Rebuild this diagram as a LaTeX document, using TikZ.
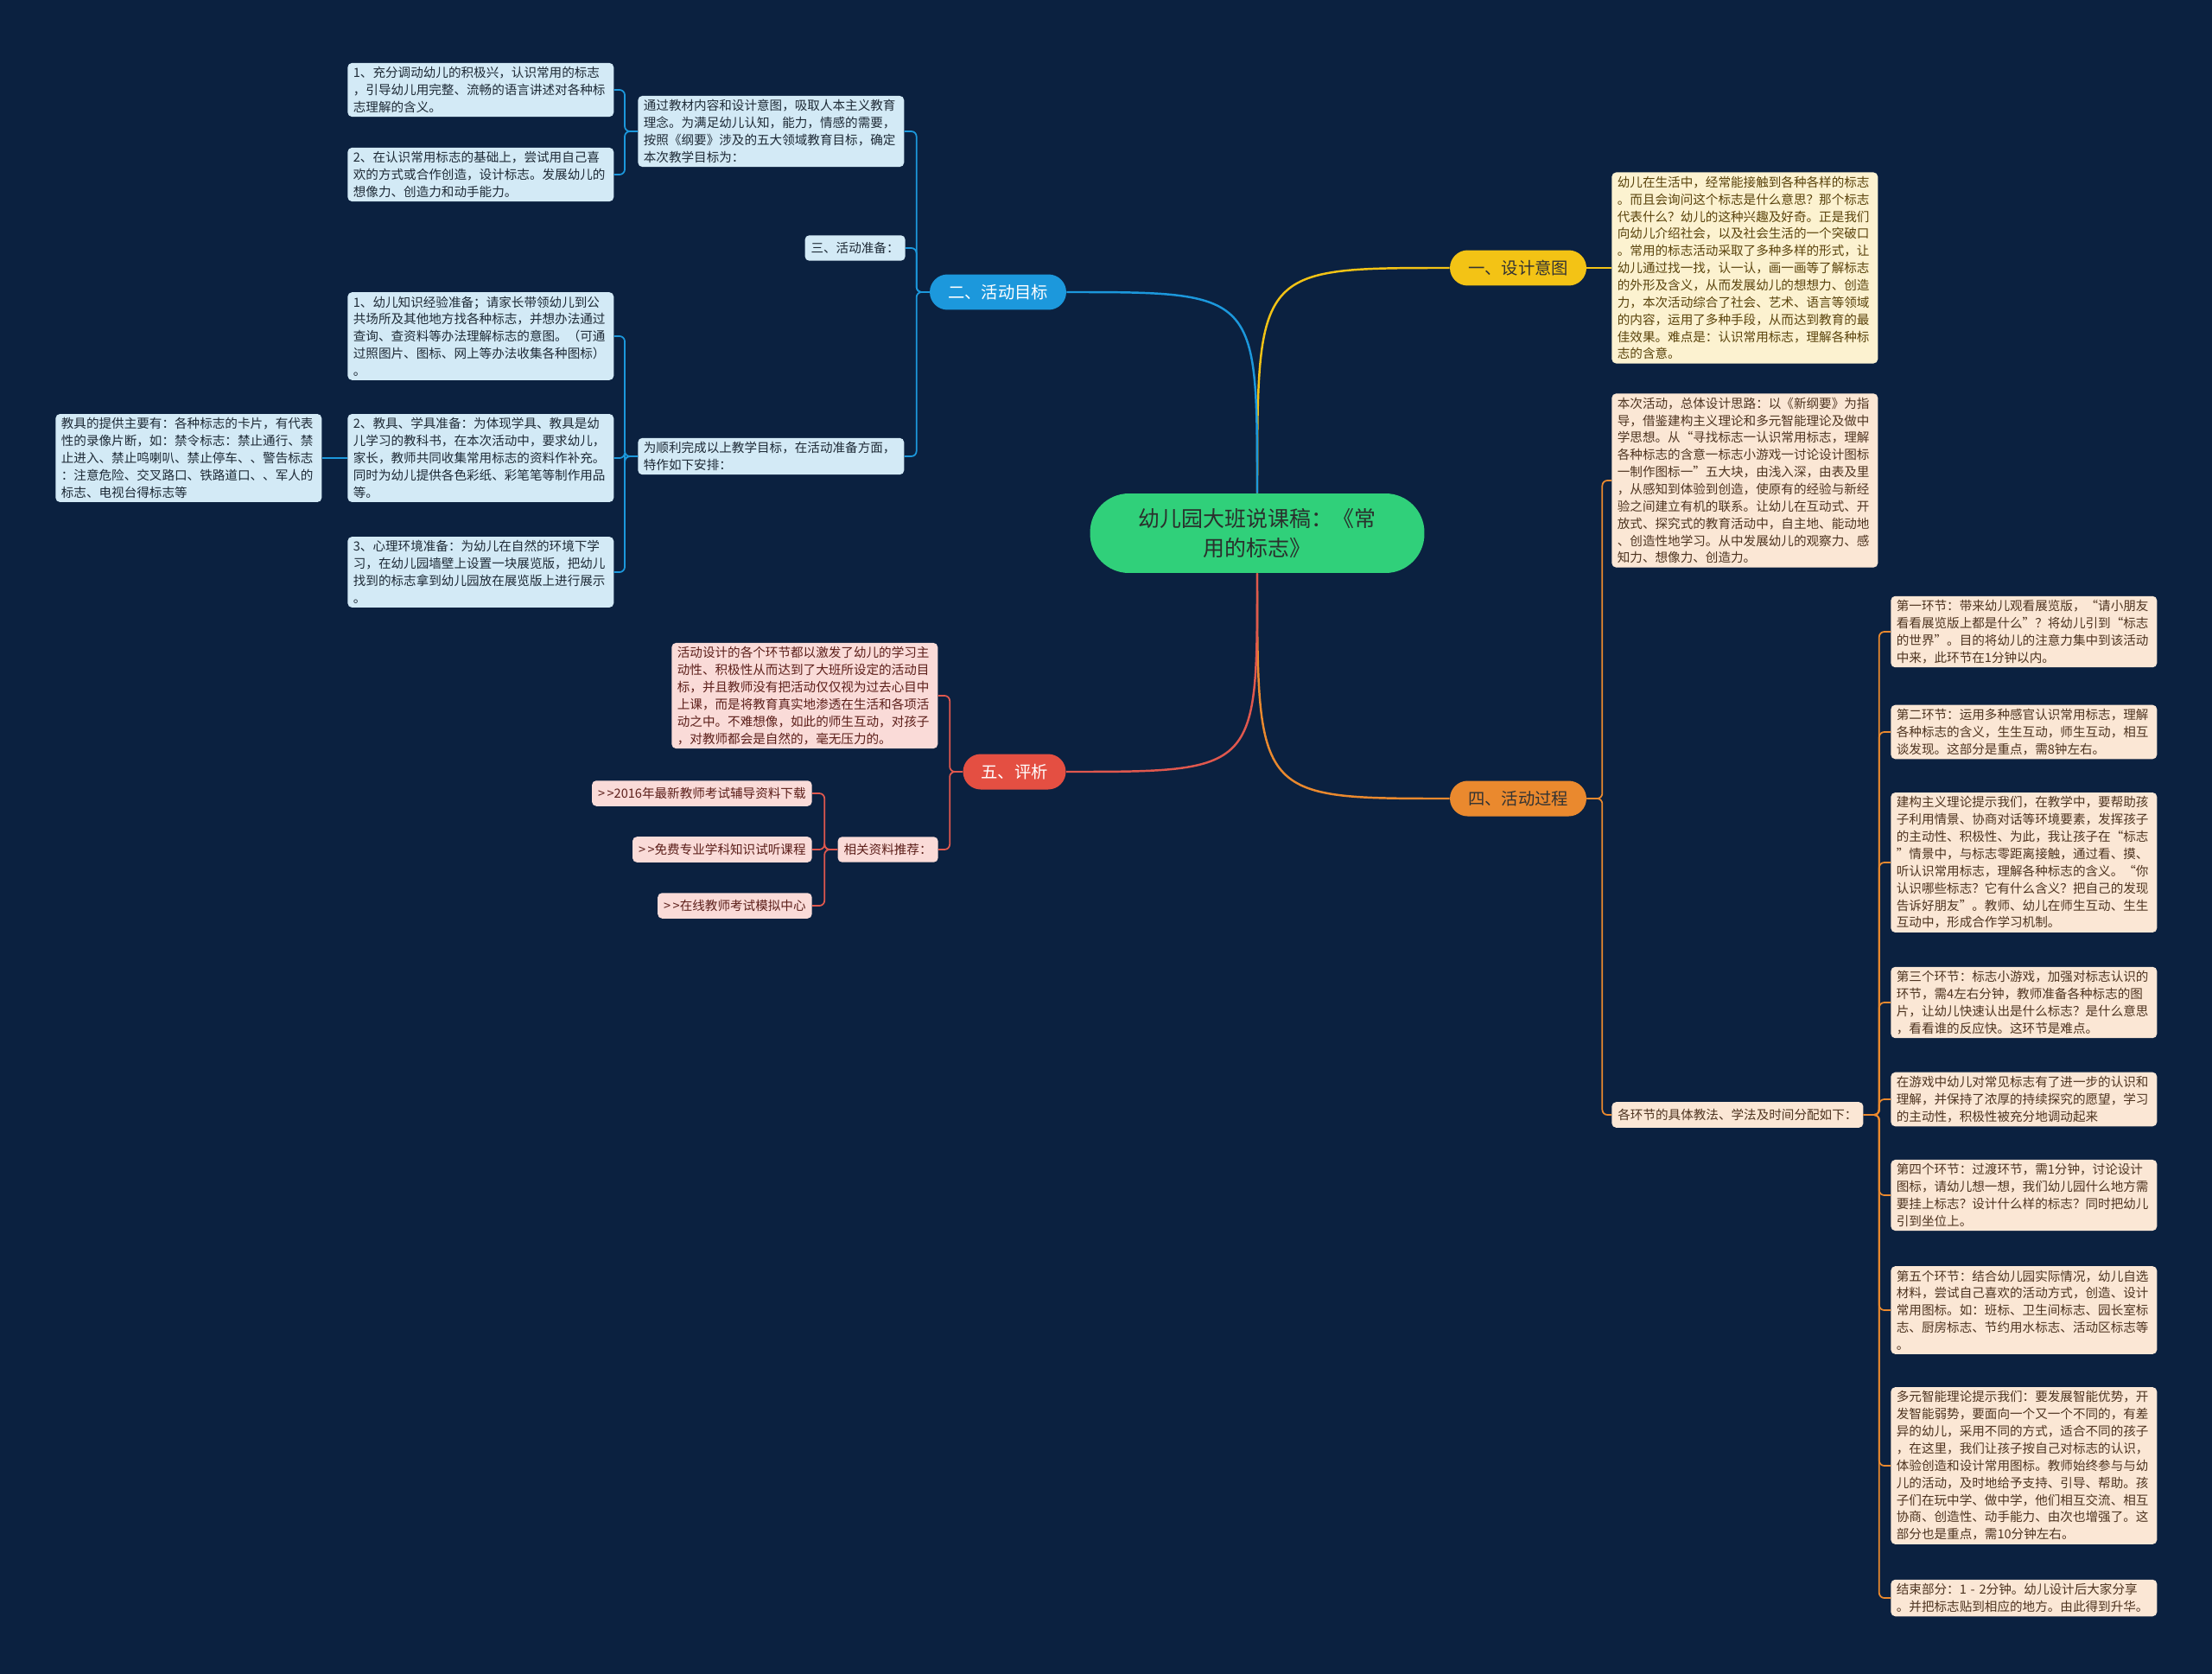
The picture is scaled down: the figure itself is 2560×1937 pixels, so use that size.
\documentclass[tikz,border=0pt]{standalone}
\usepackage{fontspec}
\setmainfont{Noto Sans CJK SC}
\usetikzlibrary{positioning}
\definecolor{bgnavy}{HTML}{0B2140}
\definecolor{hubgreen}{HTML}{30D07A}
\definecolor{hubtext}{HTML}{2A2F2C}
\definecolor{skyblue}{HTML}{1C98DC}
\definecolor{bluecard}{HTML}{D3EAF6}
\definecolor{bluetext}{HTML}{1E2A36}
\definecolor{sunyellow}{HTML}{F3C315}
\definecolor{yellowcard}{HTML}{FCF2D0}
\definecolor{yellowtext}{HTML}{5A430C}
\definecolor{tangerine}{HTML}{EA892E}
\definecolor{orangecard}{HTML}{FBE7D5}
\definecolor{orangetext}{HTML}{4E3420}
\definecolor{coralred}{HTML}{E44F42}
\definecolor{redline}{HTML}{E0584E}
\definecolor{redcard}{HTML}{FADBD8}
\definecolor{redtext}{HTML}{5C1F1A}
\definecolor{darktext}{HTML}{333333}

\begin{document}
\begin{tikzpicture}[x=0.02cm,y=-0.02cm,
  hub/.style={fill=hubgreen,text=hubtext,rounded corners=0.9cm,minimum width=7.74cm,minimum height=1.84cm,align=center,font=\fontsize{14.2}{19.3}\selectfont},
  topic/.style={rounded corners=0.41cm,minimum width=3.16cm,minimum height=0.82cm,inner sep=0pt,font=\fontsize{11}{13}\selectfont},
  note/.style={rounded corners=0.1cm,text width=5.9cm,align=left,inner xsep=0.13cm,inner ysep=0.09cm,font=\fontsize{8.3}{11.3}\selectfont},
  tag/.style={rounded corners=0.1cm,inner xsep=0.14cm,inner ysep=0.16cm,font=\fontsize{8.3}{11.3}\selectfont},
  bluenote/.style={fill=bluecard,text=bluetext},
  yellownote/.style={fill=yellowcard,text=yellowtext},
  orangenote/.style={fill=orangecard,text=orangetext},
  rednote/.style={fill=redcard,text=redtext},
  mainline/.style={line width=1.4pt},
  subline/.style={line width=1pt,rounded corners=0.12cm}]

  \fill[bgnavy] (0,0) rectangle (2560,1937);

  % centre and main topics
  \node[hub] (hub) at (1455,617) {幼儿园大班说课稿：《常\\用的标志》};
  \node[topic,fill=sunyellow,text=darktext] (intent) at (1757,310) {一、设计意图};
  \node[topic,fill=skyblue,text=white] (goal) at (1155,338) {二、活动目标};
  \node[topic,fill=tangerine,text=darktext] (process) at (1757,924) {四、活动过程};
  \node[topic,fill=coralred,text=white,minimum width=2.38cm] (review) at (1174,893) {五、评析};

  % 一
  \node[note,yellownote,anchor=west] (intenttext) at (1865,310) {幼儿在生活中，经常能接触到各种各样的标志\\。而且会询问这个标志是什么意思？那个标志\\代表什么？幼儿的这种兴趣及好奇。正是我们\\向幼儿介绍社会，以及社会生活的一个突破口\\。常用的标志活动采取了多种多样的形式，让\\幼儿通过找一找，认一认，画一画等了解标志\\的外形及含义，从而发展幼儿的想想力、创造\\力，本次活动综合了社会、艺术、语言等领域\\的内容，运用了多种手段，从而达到教育的最\\佳效果。难点是：认识常用标志，理解各种标\\志的含意。};

  % 二
  \node[note,bluenote,anchor=west] (goaltext) at (738,152) {通过教材内容和设计意图，吸取人本主义教育\\理念。为满足幼儿认知，能力，情感的需要，\\按照《纲要》涉及的五大领域教育目标，确定\\本次教学目标为：};
  \node[note,bluenote,anchor=west] (goalone) at (402,104) {1、充分调动幼儿的积极兴，认识常用的标志\\，引导幼儿用完整、流畅的语言讲述对各种标\\志理解的含义。};
  \node[note,bluenote,anchor=west] (goaltwo) at (402,202) {2、在认识常用标志的基础上，尝试用自己喜\\欢的方式或合作创造，设计标志。发展幼儿的\\想像力、创造力和动手能力。};
  \node[tag,bluenote,anchor=east] (prep) at (1048,287) {三、活动准备：};
  \node[note,bluenote,anchor=west] (plan) at (738,528) {为顺利完成以上教学目标，在活动准备方面，\\特作如下安排：};
  \node[note,bluenote,anchor=west] (planone) at (402,389) {1、幼儿知识经验准备；请家长带领幼儿到公\\共场所及其他地方找各种标志，并想办法通过\\查询、查资料等办法理解标志的意图。（可通\\过照图片、图标、网上等办法收集各种图标）\\。};
  \node[note,bluenote,anchor=west] (plantwo) at (402,530) {2、教具、学具准备：为体现学具、教具是幼\\儿学习的教科书，在本次活动中，要求幼儿，\\家长，教师共同收集常用标志的资料作补充。\\同时为幼儿提供各色彩纸、彩笔笔等制作用品\\等。};
  \node[note,bluenote,anchor=west] (planthree) at (402,662) {3、心理环境准备：为幼儿在自然的环境下学\\习，在幼儿园墙壁上设置一块展览版，把幼儿\\找到的标志拿到幼儿园放在展览版上进行展示\\。};
  \node[note,bluenote,anchor=west] (toollist) at (64,530) {教具的提供主要有：各种标志的卡片，有代表\\性的录像片断，如：禁令标志：禁止通行、禁\\止进入、禁止鸣喇叭、禁止停车、、警告标志\\：注意危险、交叉路口、铁路道口、、军人的\\标志、电视台得标志等};

  % 四
  \node[note,orangenote,anchor=west] (idea) at (1865,556) {本次活动，总体设计思路：以《新纲要》为指\\导，借鉴建构主义理论和多元智能理论及做中\\学思想。从“寻找标志一认识常用标志，理解\\各种标志的含意一标志小游戏一讨论设计图标\\一制作图标一”五大块，由浅入深，由表及里\\，从感知到体验到创造，使原有的经验与新经\\验之间建立有机的联系。让幼儿在互动式、开\\放式、探究式的教育活动中，自主地、能动地\\、创造性地学习。从中发展幼儿的观察力、感\\知力、想像力、创造力。};
  \node[tag,orangenote,anchor=west] (steps) at (1865,1290) {各环节的具体教法、学法及时间分配如下：};
  \node[note,orangenote,anchor=west] (s1) at (2188,731) {第一环节：带来幼儿观看展览版，“请小朋友\\看看展览版上都是什么”？将幼儿引到“标志\\的世界”。目的将幼儿的注意力集中到该活动\\中来，此环节在1分钟以内。};
  \node[note,orangenote,anchor=west] (s2) at (2188,847) {第二环节：运用多种感官认识常用标志，理解\\各种标志的含义，生生互动，师生互动，相互\\谈发现。这部分是重点，需8钟左右。};
  \node[note,orangenote,anchor=west] (s3) at (2188,998) {建构主义理论提示我们，在教学中，要帮助孩\\子利用情景、协商对话等环境要素，发挥孩子\\的主动性、积极性、为此，我让孩子在“标志\\”情景中，与标志零距离接触，通过看、摸、\\听认识常用标志，理解各种标志的含义。“你\\认识哪些标志？它有什么含义？把自己的发现\\告诉好朋友”。教师、幼儿在师生互动、生生\\互动中，形成合作学习机制。};
  \node[note,orangenote,anchor=west] (s4) at (2188,1160) {第三个环节：标志小游戏，加强对标志认识的\\环节，需4左右分钟，教师准备各种标志的图\\片，让幼儿快速认出是什么标志？是什么意思\\，看看谁的反应快。这环节是难点。};
  \node[note,orangenote,anchor=west] (s5) at (2188,1272) {在游戏中幼儿对常见标志有了进一步的认识和\\理解，并保持了浓厚的持续探究的愿望，学习\\的主动性，积极性被充分地调动起来};
  \node[note,orangenote,anchor=west] (s6) at (2188,1383) {第四个环节：过渡环节，需1分钟，讨论设计\\图标，请幼儿想一想，我们幼儿园什么地方需\\要挂上标志？设计什么样的标志？同时把幼儿\\引到坐位上。};
  \node[note,orangenote,anchor=west] (s7) at (2188,1516) {第五个环节：结合幼儿园实际情况，幼儿自选\\材料，尝试自己喜欢的活动方式，创造、设计\\常用图标。如：班标、卫生间标志、园长室标\\志、厨房标志、节约用水标志、活动区标志等\\。};
  \node[note,orangenote,anchor=west] (s8) at (2188,1696) {多元智能理论提示我们：要发展智能优势，开\\发智能弱势，要面向一个又一个不同的，有差\\异的幼儿，采用不同的方式，适合不同的孩子\\，在这里，我们让孩子按自己对标志的认识，\\体验创造和设计常用图标。教师始终参与与幼\\儿的活动，及时地给予支持、引导、帮助。孩\\子们在玩中学、做中学，他们相互交流、相互\\协商、创造性、动手能力、由次也增强了。这\\部分也是重点，需10分钟左右。};
  \node[note,orangenote,anchor=west] (s9) at (2188,1849) {结束部分：1 - 2分钟。幼儿设计后大家分享\\。并把标志贴到相应的地方。由此得到升华。};

  % 五
  \node[note,rednote,anchor=west] (reviewtext) at (777,805) {活动设计的各个环节都以激发了幼儿的学习主\\动性、积极性从而达到了大班所设定的活动目\\标，并且教师没有把活动仅仅视为过去心目中\\上课，而是将教育真实地渗透在生活和各项活\\动之中。不难想像，如此的师生互动，对孩子\\，对教师都会是自然的，毫无压力的。};
  \node[tag,rednote,anchor=east] (links) at (1086,983) {相关资料推荐：};
  \node[tag,rednote,anchor=east] (linkone) at (940,918) {>\,>2016年最新教师考试辅导资料下载};
  \node[tag,rednote,anchor=east] (linktwo) at (940,983) {>\,>免费专业学科知识试听课程};
  \node[tag,rednote,anchor=east] (linkthree) at (940,1048) {>\,>在线教师考试模拟中心};

  % connectors from the centre
  \draw[mainline,sunyellow] (hub.north) .. controls (hub.north |- intent.west) .. (intent.west);
  \draw[mainline,skyblue] (hub.north) .. controls (hub.north |- goal.east) .. (goal.east);
  \draw[mainline,tangerine] (hub.south) .. controls (hub.south |- process.west) .. (process.west);
  \draw[mainline,redline] (hub.south) .. controls (hub.south |- review.east) .. (review.east);

  % brackets
  \draw[subline,sunyellow] (intent.east) -- (intenttext.west);
  \foreach \n in {goaltext,prep,plan}
    \draw[subline,skyblue] (goal.west) -- ++(-15,0) |- (\n.east);
  \foreach \n in {goalone,goaltwo}
    \draw[subline,skyblue] (goaltext.west) -- ++(-15,0) |- (\n.east);
  \foreach \n in {planone,plantwo,planthree}
    \draw[subline,skyblue] (plan.west) -- ++(-15,0) |- (\n.east);
  \draw[subline,skyblue] (plantwo.west) -- (toollist.east);
  \foreach \n in {idea,steps}
    \draw[subline,tangerine] (process.east) -- ++(18,0) |- (\n.west);
  \foreach \n in {s1,s2,s3,s4,s5,s6,s7,s8,s9}
    \draw[subline,tangerine] (steps.east) -- ++(18,0) |- (\n.west);
  \foreach \n in {reviewtext,links}
    \draw[subline,redline] (review.west) -- ++(-15,0) |- (\n.east);
  \foreach \n in {linkone,linktwo,linkthree}
    \draw[subline,redline] (links.west) -- ++(-15,0) |- (\n.east);
\end{tikzpicture}
\end{document}
